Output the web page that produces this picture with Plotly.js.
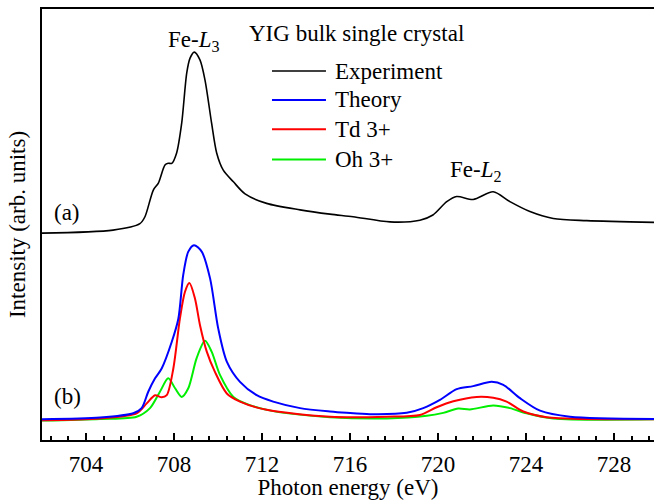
<!DOCTYPE html>
<html>
<head>
<meta charset="utf-8">
<script src="https://cdn.plot.ly/plotly-3.0.1.min.js"></script>
<style>
  html, body { margin: 0; padding: 0; background: #fff; overflow: hidden; }
  #chart { width: 654px; height: 500px; }
</style>
</head>
<body>
<div id="chart"></div>
<script>
// Fe L2,3-edge XAS of bulk YIG: experiment (offset upward) and multiplet theory
const expEnergy = [702.00, 705.23, 706.45, 706.68, 707.06, 707.29, 707.59, 707.74, 707.90, 708.12,
                   708.35, 708.58, 708.73, 708.92, 709.18, 709.41, 709.71, 709.94, 710.24, 710.70,
                   711.23, 712.21, 713.73, 715.09, 716.14, 717.82, 719.18, 719.77, 720.40, 720.85,
                   721.60, 722.51, 723.27, 724.18, 725.24, 726.76, 729.82];
const expIntensity = [48.0, 48.7, 50.2, 51.8, 58.0, 59.6, 63.8, 64.2, 64.2, 66.6,
                      73.5, 85.2, 88.6, 90.0, 88.2, 83.5, 73.5, 66.6, 62.6, 59.9,
                      57.1, 54.9, 53.4, 52.4, 51.8, 50.6, 51.0, 52.2, 55.3, 56.5,
                      55.8, 57.6, 55.3, 53.0, 51.4, 50.9, 50.5];

const theoryEnergy = [702.00, 704.64, 706.15, 706.53, 706.83, 707.14, 707.44, 707.90, 708.20, 708.42,
                      708.65, 708.91, 709.26, 709.64, 710.01, 710.40, 711.00, 711.76, 712.51, 713.73,
                      715.09, 715.85, 716.91, 718.58, 719.33, 720.09, 720.85, 721.60, 722.44, 722.97,
                      723.73, 724.64, 726.00, 729.82];
const theoryIntensity = [4.8, 5.2, 6.2, 7.4, 11.2, 14.3, 16.6, 22.8, 28.2, 38.3,
                         43.7, 45.2, 43.7, 37.5, 25.9, 18.2, 13.5, 10.4, 8.9, 7.4,
                         6.6, 6.3, 6.0, 6.3, 7.4, 9.3, 11.8, 12.5, 13.5, 12.8,
                         9.7, 6.8, 5.4, 4.9];

const tdEnergy = [702.00, 704.64, 706.30, 706.76, 707.14, 707.44, 707.67, 707.97, 708.27, 708.50,
                  708.70, 708.95, 709.18, 709.49, 709.86, 710.40, 711.00, 712.21, 715.09, 717.67,
                  719.18, 719.94, 720.70, 721.76, 722.51, 723.12, 723.88, 724.94, 729.82];
const tdIntensity = [4.6, 5.0, 6.2, 8.5, 10.4, 9.9, 10.4, 16.6, 28.2, 34.4,
                     36.4, 32.9, 26.7, 20.5, 15.8, 10.8, 8.9, 7.0, 5.4, 5.4,
                     5.8, 7.6, 9.0, 10.0, 9.8, 8.9, 6.6, 5.3, 4.8];

const ohEnergy = [702.00, 704.64, 706.30, 706.91, 707.36, 707.74, 708.05, 708.35, 708.65, 709.03,
                  709.41, 709.71, 710.09, 710.70, 711.45, 712.51, 715.09, 717.67, 719.49, 720.24,
                  720.92, 721.45, 722.51, 723.27, 724.03, 725.24, 729.82];
const ohIntensity = [4.5, 4.9, 5.4, 7.4, 11.2, 14.3, 12.0, 10.0, 12.0, 19.0,
                     23.0, 20.5, 15.1, 10.0, 8.1, 6.7, 5.3, 5.0, 5.6, 6.3,
                     7.3, 7.1, 8.0, 7.4, 6.2, 5.0, 4.8];

const seriesNames = ["Experiment", "Theory", "Td 3+", "Oh 3+"];
const seriesColors = ["#000000", "#0000ff", "#ff0000", "#00ee00"];
const xTickValues = [704, 708, 712, 716, 720, 724, 728];

const FONT = "Liberation Serif, Times New Roman, serif";
const FS = 23;

const xs = [expEnergy, theoryEnergy, tdEnergy, ohEnergy];
const ys = [expIntensity, theoryIntensity, tdIntensity, ohIntensity];
const widths = [1.6, 2, 2, 2];

// draw order: Oh, Td, Theory, Experiment so the blue sits on top of the components
const order = [3, 2, 1, 0];
const traces = order.map(i => ({
  x: xs[i], y: ys[i], type: "scatter", mode: "lines", name: seriesNames[i],
  line: { color: seriesColors[i], width: widths[i], shape: "spline", smoothing: 0.8 },
  showlegend: false, hoverinfo: "skip"
}));

// hand-laid legend block
const legendRowsY = [0.856, 0.789, 0.721, 0.651];
const shapes = [];
const annotations = [];
seriesNames.forEach((name, i) => {
  shapes.push({ type: "line", xref: "paper", yref: "paper",
    x0: 0.3758, x1: 0.464, y0: legendRowsY[i], y1: legendRowsY[i],
    line: { color: seriesColors[i], width: i === 0 ? 1.6 : 2 } });
  annotations.push({ xref: "paper", yref: "paper", x: 0.4755, y: legendRowsY[i],
    xanchor: "left", yanchor: "middle", text: name, showarrow: false,
    font: { family: FONT, size: FS, color: "#000" } });
});

annotations.push(
  { xref: "paper", yref: "paper", x: 0.5147, y: 0.944, xanchor: "center", yanchor: "middle",
    text: "YIG bulk single crystal", showarrow: false, font: { family: FONT, size: FS, color: "#000" } },
  { xref: "paper", yref: "paper", x: 0.248, y: 0.925, xanchor: "center", yanchor: "middle",
    text: "Fe-<i>L</i><sub>3</sub>", showarrow: false, font: { family: FONT, size: FS, color: "#000" } },
  { xref: "paper", yref: "paper", x: 0.709, y: 0.623, xanchor: "center", yanchor: "middle",
    text: "Fe-<i>L</i><sub>2</sub>", showarrow: false, font: { family: FONT, size: FS, color: "#000" } },
  { xref: "paper", yref: "paper", x: 0.0163, y: 0.527, xanchor: "left", yanchor: "middle",
    text: "(a)", showarrow: false, font: { family: FONT, size: FS, color: "#000" } },
  { xref: "paper", yref: "paper", x: 0.0163, y: 0.0998, xanchor: "left", yanchor: "middle",
    text: "(b)", showarrow: false, font: { family: FONT, size: FS, color: "#000" } }
);

const layout = {
  width: 654, height: 500,
  margin: { l: 42, r: 0, t: 9, b: 60, pad: 0 },
  paper_bgcolor: "#fff", plot_bgcolor: "#fff",
  showlegend: false,
  font: { family: FONT, size: FS, color: "#000" },
  xaxis: {
    range: [702, 729.82], tickvals: xTickValues, ticktext: xTickValues.map(String),
    ticks: "inside", ticklen: 7, tickwidth: 2, tickcolor: "#000",
    minor: { dtick: 0.8, tick0: 704, ticks: "inside", ticklen: 4, tickwidth: 2, tickcolor: "#000" },
    showline: true, linewidth: 2, linecolor: "#000", mirror: true,
    showgrid: false, zeroline: false,
    tickfont: { family: FONT, size: FS, color: "#000" },
    ticklabelstandoff: 2,
    title: { text: "Photon energy (eV)", font: { family: FONT, size: FS, color: "#000" }, standoff: 0 }
  },
  yaxis: {
    range: [0, 100], showticklabels: false, ticks: "",
    showline: true, linewidth: 2, linecolor: "#000", mirror: false,
    showgrid: false, zeroline: false,
    title: { text: "Intensity (arb. units)", font: { family: FONT, size: FS, color: "#000" }, standoff: 8 }
  },
  shapes: shapes,
  annotations: annotations
};

Plotly.newPlot("chart", traces, layout, { staticPlot: true, displayModeBar: false });
</script>
</body>
</html>
